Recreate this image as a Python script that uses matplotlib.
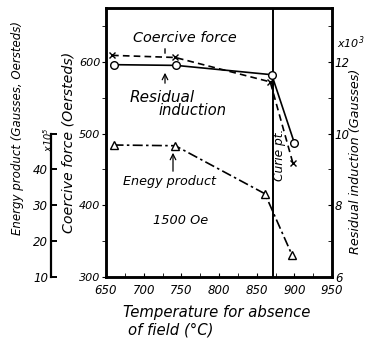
import matplotlib
matplotlib.use("Agg")
import matplotlib.pyplot as plt
from matplotlib.ticker import MultipleLocator

plt.rcParams['font.family'] = ['DejaVu Sans']
plt.rcParams['font.style'] = 'italic'

# Data
temp_cf = [658, 742, 868, 898]
coercive_force = [609, 606, 572, 459]          # Oersteds (left axis)
temp_br = [660, 743, 870, 900]
residual_induction = [11.92, 11.9, 11.64, 9.74]  # x10^3 Gausses (right axis)
temp_bh = [660, 742, 861, 897]
energy_product = [46.8, 46.6, 33.2, 16.1]        # x10^5 (far-left axis)
curie_temp = 872
x_ticks = [650, 700, 750, 800, 850, 900, 950]

W, H = 370, 340
fig = plt.figure(figsize=(W/100, H/100), dpi=100)
L, R, T, B = 106, 332, 8, 277
ax = fig.add_axes([L/W, 1-B/H, (R-L)/W, (B-T)/H])

cf_lo, cf_hi = 300, 675
ax.set_xlim(650, 950)
ax.set_ylim(cf_lo, cf_hi)
ax.set_xticks(x_ticks)
ax.xaxis.set_minor_locator(MultipleLocator(25))
ax.set_yticks([300, 400, 500, 600])
ax.yaxis.set_minor_locator(MultipleLocator(50))
ax.tick_params(axis='x', which='both', direction='in', length=3, labelsize=8.5, pad=5)
ax.tick_params(axis='y', which='both', direction='out', length=3, labelsize=8, pad=1)
for s in ax.spines.values():
    s.set_linewidth(1.8)

# right axis: residual induction
ax2 = ax.twinx()
ax2.set_ylim(cf_lo/50, cf_hi/50)
ax2.set_yticks([6, 8, 10, 12])
ax2.yaxis.set_minor_locator(MultipleLocator(1))
ax2.tick_params(axis='y', which='both', direction='in', length=3, labelsize=8.5, pad=2)
for s in ax2.spines.values():
    s.set_linewidth(1.8)

# far-left axis: energy product
ax3 = ax.twinx()
ax3.set_ylim(10, 10 + (cf_hi-cf_lo)/5)
ax3.spines['right'].set_visible(False)
ax3.spines['top'].set_visible(False)
ax3.spines['bottom'].set_visible(False)
ax3.spines['left'].set_visible(True)
ax3.spines['left'].set_position(('axes', (51-L)/(R-L)))
ax3.spines['left'].set_bounds(10, 50)
ax3.spines['left'].set_linewidth(1.6)
ax3.yaxis.tick_left()
ax3.set_yticks([10, 20, 30, 40, 50])
ax3.set_yticklabels(['10', '20', '30', '40', ''])
ax3.tick_params(axis='y', direction='in', length=4, width=1.4, labelsize=8.5, pad=2)

# lines
ax.axvline(curie_temp, color='black', lw=1.4)
ax.plot(temp_cf, coercive_force, color='black', lw=1.2, ls=(0, (4, 2.5)),
        marker='x', ms=4.5, mew=1.0)
ax2.plot(temp_br, residual_induction, color='black', lw=1.2, ls='-',
         marker='o', ms=5.5, mfc='white', mew=1.0)
ax3.plot(temp_bh, energy_product, color='black', lw=1.2, ls=(0, (6, 2, 1.5, 2)),
         marker='^', ms=5.5, mfc='white', mew=1.0)

# annotations (figure pixel coords)
def ftext(x, y, s, **kw):
    fig.text(x/W, 1-y/H, s, **kw)

ftext(133, 38, 'Coercive force', fontsize=10.4, va='center', ha='left')
ax.annotate('', xy=(165/W, 1-56/H), xytext=(165/W, 1-46/H), xycoords='figure fraction',
            arrowprops=dict(arrowstyle='-', lw=1.0))
ftext(130, 97, 'Residual', fontsize=11, va='center', ha='left')
ftext(158, 111, 'induction', fontsize=10.5, va='center', ha='left')
ax.annotate('', xy=(165/W, 1-70/H), xytext=(165/W, 1-86/H), xycoords='figure fraction',
            arrowprops=dict(arrowstyle='->', lw=0.9))
ftext(123, 181, 'Enegy product', fontsize=9.2, va='center', ha='left')
ax.annotate('', xy=(173/W, 1-150/H), xytext=(173/W, 1-174/H), xycoords='figure fraction',
            arrowprops=dict(arrowstyle='->', lw=0.9))
ftext(153, 220, '1500 Oe', fontsize=9.3, va='center', ha='left')
ftext(280, 155, 'Curie pt.', fontsize=8.8, va='center', ha='center', rotation=90)
ftext(337, 43, r'x$10^3$', fontsize=8, va='center', ha='left')
ftext(48, 140, r'x$10^5$', fontsize=7, va='center', ha='center', rotation=90)

# axis labels
ftext(18, 128, 'Energy product (Gausses, Oersteds)', fontsize=8.5, va='center',
      ha='center', rotation=90)
ftext(68, 142, 'Coercive force (Oersteds)', fontsize=10.2, va='center',
      ha='center', rotation=90)
ftext(355, 161, 'Residual induction (Gausses)', fontsize=9.2, va='center',
      ha='center', rotation=90)
ftext(123, 312, 'Temperature for absence', fontsize=10.7, va='center', ha='left')
ftext(128, 330, 'of field (°C)', fontsize=10.7, va='center', ha='left')

fig.savefig('out.png', dpi=100)
